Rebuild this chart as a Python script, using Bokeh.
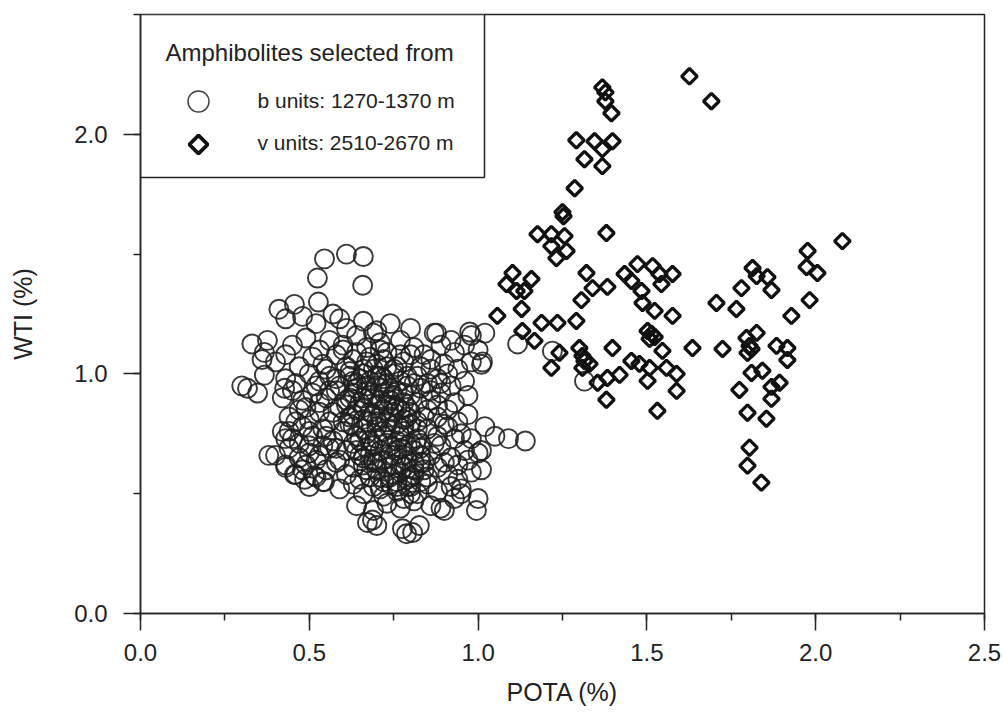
import numpy as np
from bokeh.plotting import figure
from bokeh.models import Range1d, SingleIntervalTicker, PrintfTickFormatter
from bokeh.core.properties import value
from bokeh.embed import file_html
from bokeh.resources import INLINE

# ---------------- data ----------------
# b units: 1270-1370 m (open circles)  (POTA %, WTI %)
b_points = [
    (0.48,1.24),(0.52,1.21),(0.57,1.25),(0.61,1.19),(0.66,1.22),(0.70,1.18),(0.74,1.21),(0.80,1.19),(0.87,1.17),(0.92,1.14),(0.98,1.16),
    (0.45,1.12),(0.49,1.15),(0.53,1.10),(0.56,1.14),(0.60,1.12),(0.64,1.16),(0.67,1.11),(0.71,1.13),(0.73,1.09),(0.77,1.14),(0.81,1.11),(0.84,1.08),(0.89,1.12),(0.93,1.09),(0.96,1.12),(1.00,1.10),(0.69,1.17),
    (0.40,1.05),(0.43,1.08),(0.47,1.03),(0.51,1.07),(0.54,1.04),(0.58,1.08),(0.61,1.03),(0.63,1.06),(0.66,1.02),(0.68,1.07),(0.70,1.04),(0.72,1.06),(0.75,1.02),(0.78,1.05),(0.80,1.08),(0.83,1.03),(0.86,1.06),(0.90,1.04),(0.94,1.02),(0.98,1.05),(1.01,1.04),
    (0.43,0.98),(0.46,0.96),(0.50,1.00),(0.53,0.97),(0.56,0.99),(0.59,0.95),(0.62,0.99),(0.64,0.96),(0.66,1.00),(0.68,0.97),(0.70,0.95),(0.71,0.99),(0.73,0.96),(0.75,1.00),(0.77,0.97),(0.79,0.95),(0.82,0.99),(0.85,0.96),(0.88,0.98),(0.92,0.95),(0.96,0.97),
    (0.42,0.90),(0.45,0.93),(0.48,0.89),(0.51,0.92),(0.55,0.90),(0.58,0.93),(0.61,0.89),(0.63,0.92),(0.65,0.88),(0.67,0.93),(0.69,0.90),(0.70,0.87),(0.72,0.92),(0.74,0.89),(0.76,0.93),(0.78,0.88),(0.80,0.91),(0.83,0.94),(0.86,0.89),(0.89,0.92),(0.93,0.88),(0.97,0.91),
    (0.44,0.82),(0.47,0.85),(0.50,0.81),(0.53,0.84),(0.56,0.80),(0.59,0.86),(0.62,0.82),(0.64,0.85),(0.66,0.81),(0.68,0.84),(0.70,0.80),(0.72,0.85),(0.74,0.82),(0.76,0.86),(0.78,0.81),(0.80,0.84),(0.82,0.80),(0.85,0.85),(0.88,0.82),(0.91,0.85),(0.94,0.80),(0.97,0.83),
    (0.42,0.76),(0.45,0.73),(0.48,0.78),(0.51,0.74),(0.54,0.77),(0.57,0.72),(0.60,0.76),(0.62,0.79),(0.64,0.74),(0.66,0.77),(0.68,0.72),(0.70,0.78),(0.72,0.74),(0.74,0.77),(0.76,0.72),(0.78,0.76),(0.80,0.79),(0.82,0.73),(0.85,0.77),(0.88,0.74),(0.91,0.78),(0.95,0.75),(0.98,0.73),
    (0.40,0.66),(0.44,0.69),(0.47,0.65),(0.50,0.70),(0.53,0.66),(0.56,0.69),(0.59,0.64),(0.61,0.68),(0.63,0.71),(0.65,0.66),(0.67,0.69),(0.69,0.64),(0.71,0.68),(0.73,0.71),(0.75,0.66),(0.77,0.69),(0.79,0.64),(0.81,0.68),(0.83,0.71),(0.86,0.66),(0.89,0.70),(0.92,0.65),(0.96,0.68),(1.00,0.67),
    (0.43,0.61),(0.46,0.58),(0.49,0.62),(0.52,0.57),(0.55,0.60),(0.58,0.63),(0.61,0.58),(0.63,0.61),(0.65,0.56),(0.67,0.60),(0.69,0.63),(0.71,0.57),(0.73,0.61),(0.75,0.58),(0.77,0.62),(0.79,0.56),(0.81,0.60),(0.83,0.63),(0.85,0.57),(0.88,0.61),(0.91,0.58),(0.94,0.62),(0.98,0.59),
    (0.50,0.53),(0.54,0.55),(0.59,0.52),(0.63,0.54),(0.66,0.50),(0.69,0.53),(0.72,0.49),(0.74,0.54),(0.76,0.51),(0.78,0.48),(0.80,0.53),(0.82,0.50),(0.85,0.54),(0.88,0.51),(0.92,0.53),(0.95,0.50),
    (0.64,0.45),(0.69,0.43),(0.73,0.46),(0.77,0.44),(0.81,0.47),(0.86,0.45),(0.90,0.43),
    (0.62,1.01),(0.65,0.98),(0.69,1.02),(0.72,0.98),(0.76,1.03),(0.79,0.99),(0.64,0.94),(0.68,0.91),(0.71,0.94),(0.73,0.87),(0.75,0.91),(0.77,0.85),
    (0.61,0.87),(0.66,0.86),(0.69,0.83),(0.73,0.80),(0.76,0.79),(0.79,0.82),(0.63,0.78),(0.67,0.75),(0.70,0.73),(0.74,0.70),(0.77,0.74),(0.80,0.71),
    (0.64,0.68),(0.68,0.66),(0.72,0.64),(0.75,0.62),(0.78,0.66),(0.81,0.63),(0.66,0.62),(0.70,0.60),(0.74,0.57),(0.77,0.59),(0.80,0.57),(0.83,0.66),
    (0.84,0.60),(0.79,0.53),(0.76,0.55),(0.71,0.52),(0.58,0.98),(0.56,0.93),(0.53,0.88),(0.57,0.84),(0.60,0.80),(0.55,0.74),(0.58,0.69),(0.52,0.64),
    (0.47,0.71),(0.50,0.76),(0.86,0.93),(0.88,0.87),(0.84,0.82),(0.90,0.79),(0.87,0.71),(0.93,0.73),(0.90,0.63),(0.94,0.56),(0.97,0.64),(0.60,1.10),
    (0.63,0.97),(0.67,0.95),(0.70,0.99),(0.74,0.94),(0.78,0.92),(0.81,0.96),(0.62,0.90),(0.66,0.90),(0.71,0.89),(0.75,0.87),
    (0.79,0.86),(0.82,0.88),(0.63,0.83),(0.67,0.80),(0.71,0.82),(0.75,0.84),(0.78,0.78),(0.82,0.77),(0.65,0.72),(0.69,0.70),
    (0.72,0.76),(0.76,0.68),(0.79,0.70),(0.83,0.69),(0.66,0.65),(0.70,0.63),(0.74,0.66),(0.78,0.61),(0.81,0.58),(0.84,0.63),
    (0.68,0.57),(0.72,0.55),(0.76,0.53),(0.80,0.50),(0.83,0.55),(0.73,1.03),(0.67,1.05),(0.77,1.08),(0.64,1.09),(0.71,1.10),
    (0.86,1.02),(0.89,0.96),(0.91,1.00),(0.55,1.02),(0.52,0.95),(0.49,0.86),(0.46,0.80),(0.54,0.70),(0.50,0.67),(0.48,0.60),
    (0.30,0.95),(0.317,0.94),(0.347,0.92),(0.33,1.125),(0.376,1.14),(0.367,1.09),(0.36,1.06),(0.367,0.995),(0.41,1.27),(0.456,1.29),
    (0.43,1.23),(0.527,1.30),(0.524,1.40),(0.545,1.48),(0.61,1.50),(0.66,1.49),(0.658,1.37),(0.59,1.23),(0.427,0.94),(0.38,0.66),
    (0.43,0.62),(0.456,0.58),(0.486,0.56),(0.515,0.575),(0.545,0.55),(0.44,0.76),(0.43,0.73),(1.02,0.78),(1.05,0.74),(1.09,0.73),
    (1.14,0.72),(1.02,1.17),(1.013,1.05),(1.117,1.125),(0.975,1.175),(1.01,0.68),(1.01,0.60),(1.0,0.48),(0.995,0.43),(0.672,0.38),
    (0.687,0.39),(0.70,0.367),(0.776,0.354),(0.788,0.333),(0.806,0.338),(0.826,0.367),(0.89,0.44),(0.93,0.48),(0.95,0.52),(1.315,0.97),
    (1.22,1.095),(0.877,1.17),
]
b_pota = [p[0] for p in b_points]
b_wti = [p[1] for p in b_points]

# v units: 2510-2670 m (open diamonds)
v_pota = [1.626,1.691,1.368,1.377,1.377,1.395,1.291,1.345,1.398,1.368,1.315,1.368,1.286,1.250,1.253,
          1.380,1.176,1.217,1.256,1.217,1.262,1.232,1.102,1.084,1.158,1.114,1.137,1.129,1.057,1.321,
          1.339,1.383,1.306,1.434,1.472,1.454,1.484,1.517,1.537,1.576,1.543,1.487,1.523,1.576,1.706,
          1.780,1.765,1.188,1.235,1.291,1.131,1.167,1.241,1.217,1.300,1.309,1.315,1.330,1.309,1.354,
          1.383,1.419,1.380,1.398,1.454,1.478,1.508,1.502,1.502,1.514,1.523,1.508,1.546,1.558,1.588,
          1.588,1.531,1.635,1.724,1.774,2.079,1.976,1.973,2.005,1.813,1.825,1.857,1.869,1.982,1.928,
          1.825,1.795,1.804,1.798,1.810,1.884,1.916,1.916,1.810,1.842,1.869,1.893,1.869,1.798,1.854,
          1.804,1.798,1.839]
v_wti = [2.242,2.138,2.196,2.175,2.138,2.088,1.975,1.971,1.971,1.938,1.896,1.867,1.775,1.675,1.658,
         1.588,1.583,1.583,1.575,1.533,1.513,1.483,1.421,1.375,1.396,1.346,1.346,1.271,1.242,1.421,
         1.358,1.363,1.308,1.417,1.458,1.388,1.346,1.450,1.417,1.417,1.375,1.296,1.263,1.242,1.296,
         1.358,1.271,1.213,1.213,1.221,1.179,1.138,1.088,1.025,1.108,1.075,1.054,1.042,1.025,0.963,
         0.983,0.996,0.892,1.108,1.054,1.042,1.025,0.971,1.179,1.167,1.154,1.146,1.096,1.025,1.000,
         0.929,0.846,1.108,1.104,0.933,1.554,1.513,1.446,1.421,1.442,1.408,1.404,1.350,1.308,1.242,
         1.171,1.150,1.117,1.088,1.104,1.117,1.108,1.058,1.004,1.013,0.946,0.963,0.896,0.838,0.813,
         0.692,0.617,0.546]

x_ticks_interval = 0.5
y_ticks_interval = 1.0
legend_title = "Amphibolites selected from"
legend_labels = ["b units: 1270-1370 m", "v units: 2510-2670 m"]

# ---------------- figure ----------------
FONT = "Liberation Sans"
TXT = "#222222"
FW, FH = 844, 599

p = figure(width=1003, height=713, output_backend="svg", toolbar_location=None,
           x_range=Range1d(0, 2.5), y_range=Range1d(0, 2.5),
           min_border_left=140, min_border_right=19, min_border_top=14, min_border_bottom=100)
p.xgrid.visible = False
p.ygrid.visible = False
p.background_fill_color = "white"
p.border_fill_color = "white"
p.outline_line_color = "#222222"
p.outline_line_width = 1.5
p.outline_line_alpha = 1.0

p.xaxis.ticker = SingleIntervalTicker(interval=x_ticks_interval, num_minor_ticks=2)
p.yaxis.ticker = SingleIntervalTicker(interval=y_ticks_interval, num_minor_ticks=2)
for ax in (p.xaxis, p.yaxis):
    ax.formatter = PrintfTickFormatter(format="%.1f")
    ax.axis_line_color = "#222222"
    ax.axis_line_width = 1.5
    ax.major_tick_line_color = "#222222"
    ax.major_tick_line_width = 1.5
    ax.minor_tick_line_color = "#222222"
    ax.minor_tick_line_width = 1.5
    ax.major_tick_in = 0
    ax.major_tick_out = 17
    ax.minor_tick_in = 0
    ax.minor_tick_out = 7
    ax.major_label_text_font = FONT
    ax.major_label_text_font_size = "24px"
    ax.major_label_text_color = TXT
    ax.axis_label_text_font = FONT
    ax.axis_label_text_font_size = "25px"
    ax.axis_label_text_font_style = "normal"
    ax.axis_label_text_color = TXT
p.xaxis.axis_label = "POTA (%)"
p.yaxis.axis_label = "WTI (%)"
p.xaxis.major_label_standoff = 13
p.yaxis.major_label_standoff = 16
p.xaxis.axis_label_standoff = 14
p.yaxis.axis_label_standoff = 34

# data
p.scatter(b_pota, b_wti, marker="circle", size=19, fill_color=None,
          line_color="#1e1e1e", line_alpha=0.88, line_width=1.9)
p.scatter(v_pota, v_wti, marker="square", angle=np.pi / 4, size=11, fill_color=None,
          line_color="#111111", line_width=3.3)

# legend (in frame pixel coordinates, y from top)
p.extra_x_ranges = {"lx": Range1d(0, FW)}
p.extra_y_ranges = {"ly": Range1d(FH, 0)}
p.quad(left=[0], right=[344], top=[0], bottom=[163], x_range_name="lx", y_range_name="ly",
       fill_color="white", line_color="#222222", line_width=1.5)
p.text(x=[25], y=[38], text=[legend_title], x_range_name="lx", y_range_name="ly",
       text_font=value(FONT), text_font_size="24px", text_baseline="middle", text_color=TXT)
p.scatter(x=[58], y=[87], marker="circle", size=21, fill_color=None, line_color="#444444",
          line_width=1.5, x_range_name="lx", y_range_name="ly")
p.scatter(x=[58], y=[130], marker="square", angle=np.pi / 4, size=13, fill_color=None,
          line_color="#111111", line_width=3.8, x_range_name="lx", y_range_name="ly")
p.text(x=[117, 117], y=[86, 128], text=legend_labels, x_range_name="lx", y_range_name="ly",
       text_font=value(FONT), text_font_size="21px", text_baseline="middle", text_color=TXT)

open("out.html", "w").write(file_html(p, INLINE))
